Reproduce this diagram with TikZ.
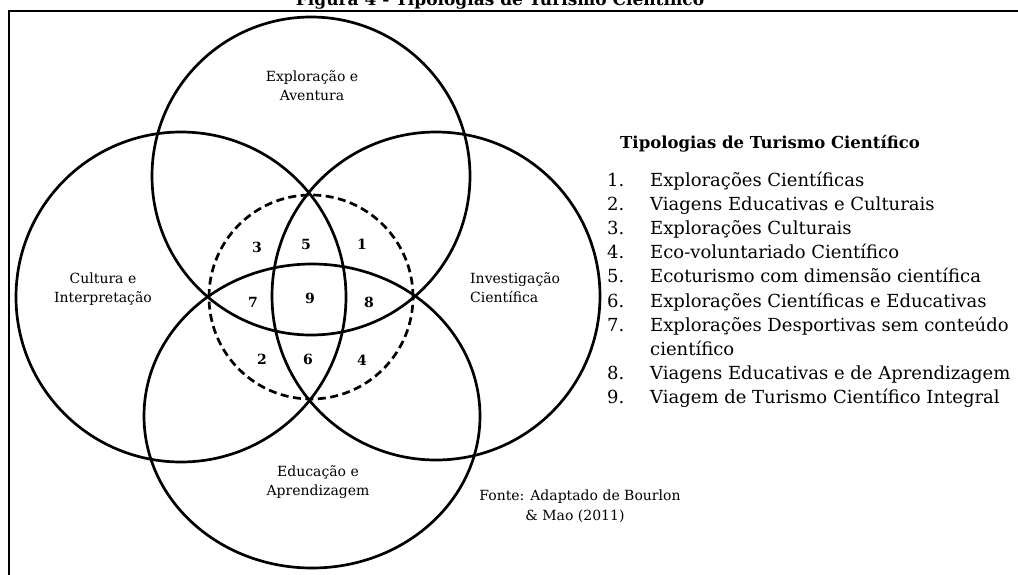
\documentclass[tikz,border=0pt]{standalone}
\usepackage{fontspec}
\setmainfont{DejaVu Serif}
\usetikzlibrary{shapes.geometric}
\begin{document}
\begin{tikzpicture}[x=1pt,y=-1pt,
  ring/.style={line width=2.7pt},
  dashring/.style={line width=2.7pt, dash pattern=on 8pt off 4.5pt},
  lbl/.style={anchor=base, inner sep=0pt, font=\fontsize{14}{18}\selectfont},
  lblw/.style={anchor=base west, inner sep=0pt, font=\fontsize{14}{18}\selectfont},
  num/.style={inner sep=0pt, font=\fontsize{14}{18}\selectfont\bfseries},
  leg/.style={anchor=base west, inner sep=0pt, font=\fontsize{18}{24}\selectfont},
  legh/.style={anchor=base west, inner sep=0pt, font=\fontsize{16.5}{22}\selectfont\bfseries},
]
\useasboundingbox (0,0) rectangle (1018,574);
\clip (0,0) rectangle (1018,574);
\fill[white] (0,0) rectangle (1018,574);
\draw[line width=2pt] (9,600) -- (9,11) -- (1030,11);
\node[anchor=base, inner sep=0pt, font=\fontsize{17}{22}\selectfont\bfseries] (fig) at (500,5) {Figura 4 - Tipologias de Turismo Científico};

% circles
\draw[ring] (311,176) circle[radius=159pt];
\draw[ring] (181,297) circle[radius=165pt];
\draw[ring] (436,296) circle[radius=164pt];
\draw[ring] (312,416) ellipse[x radius=168pt, y radius=152pt];
\draw[dashring] (311,297) circle[radius=102pt];

% circle labels
\node[lbl] (ea1) at (312,81) {Exploração e};
\node[lbl] (ea2) at (312,100) {Aventura};
\node[lbl] (ci1) at (103,283) {Cultura e};
\node[lbl] (ci2) at (103,302) {Interpretação};
\node[lblw] (ic1) at (470,283) {Investigação};
\node[lblw] (ic2) at (470,302) {Científica};
\node[lbl] (ed1) at (318,476) {Educação e};
\node[lbl] (ed2) at (318,495) {Aprendizagem};
\node[lbl] (fo1) at (580,500) {Fonte: Adaptado de Bourlon};
\node[lbl] (fo2) at (575,520) {\& Mao (2011)};

% region numbers
\node[num] (n3) at (257,247) {3};
\node[num] (n5) at (306,244) {5};
\node[num] (n1) at (362,244) {1};
\node[num] (n7) at (253,302) {7};
\node[num] (n9) at (310,298) {9};
\node[num] (n8) at (369,302) {8};
\node[num] (n2) at (262,359) {2};
\node[num] (n6) at (308,359) {6};
\node[num] (n4) at (362,360) {4};

% legend
\node[legh] (lh) at (620,148) {Tipologias de Turismo Científico};
\node[leg] (k1) at (607,186) {1.};  \node[leg] (t1) at (650,186) {Explorações Científicas};
\node[leg] (k2) at (607,210) {2.};  \node[leg] (t2) at (650,210) {Viagens Educativas e Culturais};
\node[leg] (k3) at (607,234) {3.};  \node[leg] (t3) at (650,234) {Explorações Culturais};
\node[leg] (k4) at (607,258) {4.};  \node[leg] (t4) at (650,258) {Eco-voluntariado Científico};
\node[leg] (k5) at (607,282) {5.};  \node[leg] (t5) at (650,282) {Ecoturismo com dimensão científica};
\node[leg] (k6) at (607,307) {6.};  \node[leg] (t6) at (650,307) {Explorações Científicas e Educativas};
\node[leg] (k7) at (607,331) {7.};  \node[leg] (t7) at (650,331) {Explorações Desportivas sem conteúdo};
\node[leg] (t7b) at (650,355) {científico};
\node[leg] (k8) at (607,379) {8.};  \node[leg] (t8) at (650,379) {Viagens Educativas e de Aprendizagem};
\node[leg] (k9) at (607,403) {9.};  \node[leg] (t9) at (650,403) {Viagem de Turismo Científico Integral};
\end{tikzpicture}
\end{document}
